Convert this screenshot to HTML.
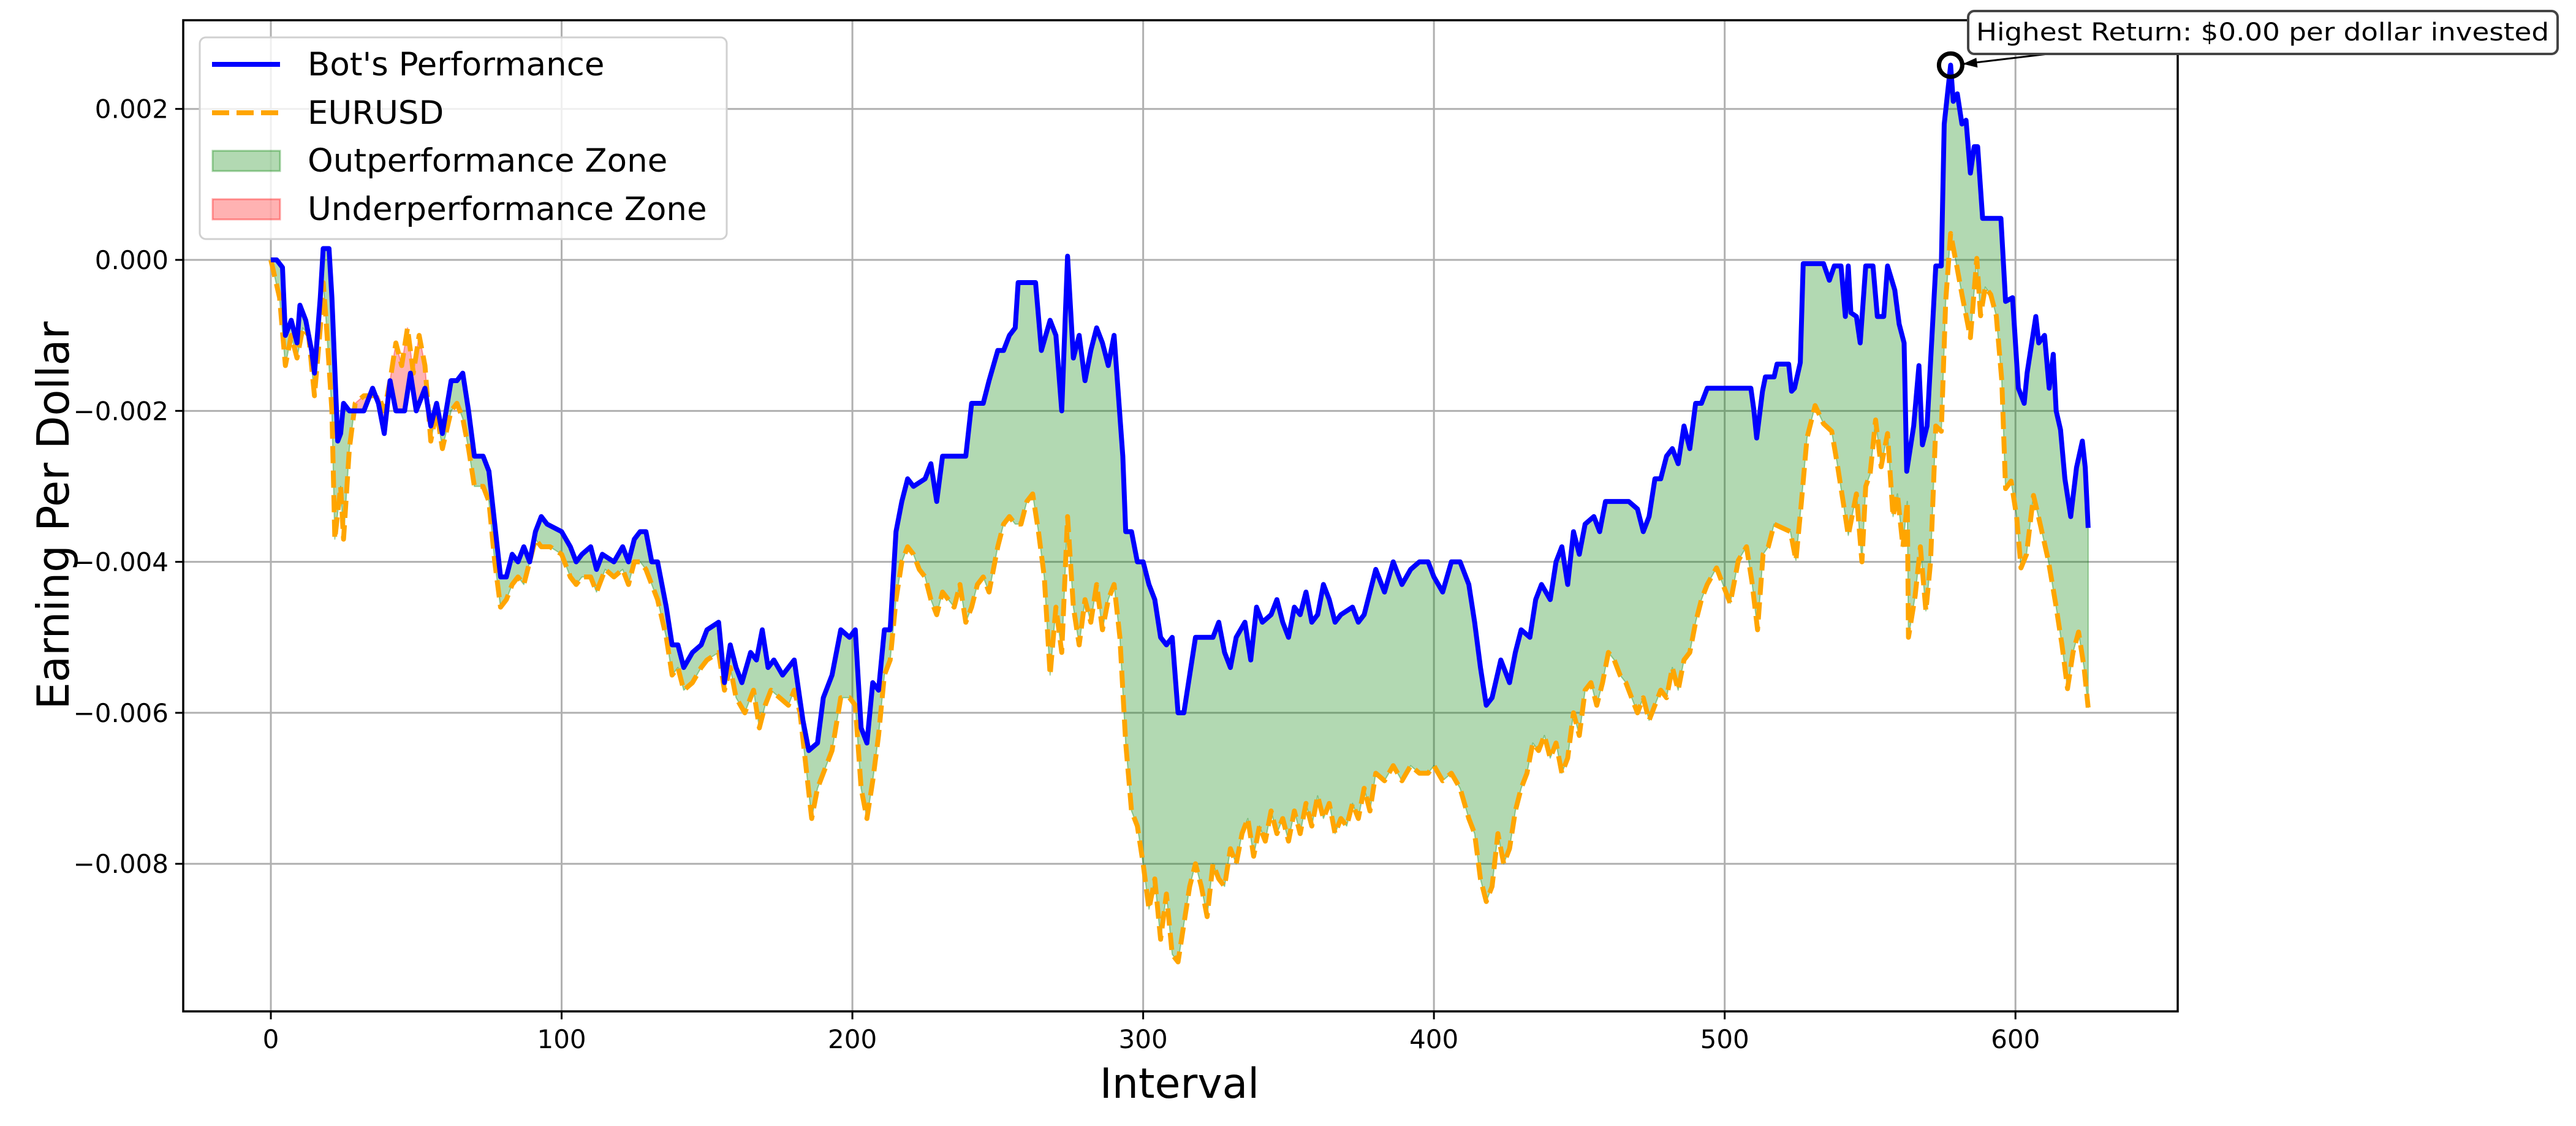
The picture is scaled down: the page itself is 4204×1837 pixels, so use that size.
<!DOCTYPE html>
<html><head><meta charset="utf-8">
<style>
html,body{margin:0;padding:0;background:#fff;}
svg{display:block;font-family:"DejaVu Sans","Liberation Sans",sans-serif;}
</style></head>
<body>
<svg id="chart" width="4204" height="1837" viewBox="0 0 4204 1837" xmlns="http://www.w3.org/2000/svg">
<rect x="0" y="0" width="4204" height="1837" fill="#fff"/>
<g id="grid"></g>
<g id="fills"></g>
<g id="lines"></g>
<g id="axes"></g>
<text x="0" y="0" transform="translate(112,841) rotate(-90)" text-anchor="middle" font-size="72" textLength="633" lengthAdjust="spacingAndGlyphs">Earning Per Dollar</text>
<text x="1925" y="1791" text-anchor="middle" font-size="68">Interval</text>
<g>
<rect x="326" y="61" width="860" height="329" rx="10" fill="#fff" fill-opacity="0.8" stroke="#d0d0d0" stroke-width="3"/>
<line x1="346" y1="105" x2="457" y2="105" stroke="#0000ff" stroke-width="8"/>
<text x="502" y="123" font-size="53">Bot's Performance</text>
<line x1="346" y1="184" x2="457" y2="184" stroke="#ffa500" stroke-width="8" stroke-dasharray="28,12"/>
<text x="502" y="202" font-size="53">EURUSD</text>
<rect x="347" y="246" width="110" height="33" fill="rgba(0,128,0,0.3)" stroke="rgba(0,128,0,0.35)" stroke-width="3"/>
<text x="502" y="280" font-size="53">Outperformance Zone</text>
<rect x="347" y="325" width="110" height="33" fill="rgba(255,0,0,0.3)" stroke="rgba(255,0,0,0.35)" stroke-width="3"/>
<text x="502" y="359" font-size="53">Underperformance Zone</text>
</g>
<g id="annot"></g>
</svg>
<script>
const botX=[0,2,4,5,7,9,10,12,14,15,17,18,20,21,23,24,25,27,32,35,37,39,41,43,46,48,50,53,55,57,59,62,64,66,68,70,73,75,77,79,81,83,85,87,89,91,93,95,100,103,105,107,110,112,114,118,121,123,125,127,129,131,133,136,138,140,142,145,148,150,154,156,158,160,162,165,167,169,171,173,176,180,183,185,188,190,193,196,199,201,203,205,207,209,211,213,215,217,219,221,225,227,229,231,239,241,245,247,250,252,254,256,257,263,265,268,270,272,274,276,278,280,282,284,286,288,290,293,294,296,298,300,302,304,306,308,310,312,314,316,318,324,326,328,330,332,335,337,339,341,344,346,348,350,352,354,356,358,360,362,364,366,368,372,374,376,380,383,386,389,392,395,398,400,403,406,409,412,414,416,418,420,423,426,428,430,433,435,437,440,442,444,446,448,450,452,455,457,459,467,470,472,474,476,478,480,482,484,486,488,490,492,494,497,505,509,510,511,513,514,517,518,522,523,524,526,527,534,536,537.7,540,541.5,542.5,543.4,545.3,546.6,548.5,551,552.5,554.7,556,558.5,560,561.7,562.6,565,566.8,568,569.6,572.6,574.5,575.5,577.7,578.6,580,581.6,583,584.5,585.8,587,588.7,595,596.6,599,601,603,604,607,608,610,611.6,613,614,615.5,617,619,621,623,624,625];
const botY=[0,0,-0.1,-1.0,-0.8,-1.1,-0.6,-0.8,-1.2,-1.5,-0.5,0.15,0.15,-0.5,-2.4,-2.3,-1.9,-2.0,-2.0,-1.7,-1.9,-2.3,-1.6,-2.0,-2.0,-1.5,-2.0,-1.7,-2.2,-1.9,-2.3,-1.6,-1.6,-1.5,-2.0,-2.6,-2.6,-2.8,-3.5,-4.2,-4.2,-3.9,-4.0,-3.8,-4.0,-3.6,-3.4,-3.5,-3.6,-3.8,-4.0,-3.9,-3.8,-4.1,-3.9,-4.0,-3.8,-4.0,-3.7,-3.6,-3.6,-4.0,-4.0,-4.6,-5.1,-5.1,-5.4,-5.2,-5.1,-4.9,-4.8,-5.6,-5.1,-5.4,-5.6,-5.2,-5.3,-4.9,-5.4,-5.3,-5.5,-5.3,-6.1,-6.5,-6.4,-5.8,-5.5,-4.9,-5.0,-4.9,-6.2,-6.4,-5.6,-5.7,-4.9,-4.9,-3.6,-3.2,-2.9,-3.0,-2.9,-2.7,-3.2,-2.6,-2.6,-1.9,-1.9,-1.6,-1.2,-1.2,-1.0,-0.9,-0.3,-0.3,-1.2,-0.8,-1.0,-2.0,0.05,-1.3,-1.0,-1.6,-1.2,-0.9,-1.1,-1.4,-1.0,-2.6,-3.6,-3.6,-4.0,-4.0,-4.3,-4.5,-5.0,-5.1,-5.0,-6.0,-6.0,-5.5,-5.0,-5.0,-4.8,-5.2,-5.4,-5.0,-4.8,-5.3,-4.6,-4.8,-4.7,-4.5,-4.8,-5.0,-4.6,-4.7,-4.4,-4.8,-4.7,-4.3,-4.5,-4.8,-4.7,-4.6,-4.8,-4.7,-4.1,-4.4,-4.0,-4.3,-4.1,-4.0,-4.0,-4.2,-4.4,-4.0,-4.0,-4.3,-4.8,-5.4,-5.9,-5.8,-5.3,-5.6,-5.2,-4.9,-5.0,-4.5,-4.3,-4.5,-4.0,-3.8,-4.3,-3.6,-3.9,-3.5,-3.4,-3.6,-3.2,-3.2,-3.3,-3.6,-3.4,-2.9,-2.9,-2.6,-2.5,-2.7,-2.2,-2.5,-1.9,-1.9,-1.7,-1.7,-1.7,-1.7,-1.98,-2.36,-1.74,-1.55,-1.55,-1.38,-1.38,-1.74,-1.7,-1.36,-0.05,-0.05,-0.27,-0.08,-0.08,-0.75,-0.08,-0.7,-0.75,-1.1,-0.08,-0.08,-0.75,-0.75,-0.08,-0.4,-0.85,-1.1,-2.8,-2.2,-1.4,-2.45,-2.2,-0.08,-0.08,1.8,2.58,2.1,2.2,1.8,1.85,1.15,1.5,1.5,0.55,0.55,-0.55,-0.5,-1.7,-1.9,-1.5,-0.75,-1.1,-1.0,-1.7,-1.25,-2.0,-2.25,-2.9,-3.4,-2.75,-2.4,-2.75,-3.55];
const eurX=[0,3,5,7,9,11,13,15,17,18,19,21,22,24,25,27,29,32,35,37,39,41,43,45,47,49,51,53,55,57,59,62,64,66,68,70,73,75,77,79,81,83,85,87,89,91,93,96,100,103,105,107,110,112,115,118,121,123,125,127,129,131,133,136,138,140,142,145,148,150,154,156,158,160,163,166,168,170,172,175,178,180,182,184,186,188,190,193,196,199,201,203,205,207,209,211,213,215,217,219,221,223,225,227,229,231,233,235,237,239,241,243,245,247,250,252,254,256,258,260,262,264,266,268,270,272,274,276,278,280,282,284,286,288,290,292,294,296,298,300,302,304,306,308,310,312,314,316,318,320,322,324,326,328,330,332,334,336,338,340,342,344,346,348,350,352,354,356,358,360,362,364,366,368,370,372,374,376,378,380,383,386,389,392,395,398,400,403,406,409,412,414,416,418,420,422,424,426,428,430,432,434,436,438,440,442,444,446,448,450,452,454,456,458,460,462,464,466,468,470,472,474,476,478,480,482,484,486,488,490,492,494,497.2,500,501.9,504.7,507.5,509.4,511.3,513.2,515,517,519.8,522.6,524.5,526.4,528.3,531.1,534,536.8,538.7,541,542.5,545.3,547.2,548.5,550,551.9,553.8,556,557.9,559.4,561.3,562.8,563.2,565.5,567.3,569.2,570.8,572.6,574.5,576,577.7,580,581.6,584.5,586.7,588,589.6,591.5,593.4,595.3,596.6,598.5,600.4,601.9,603.8,606.2,608.5,611.3,613.8,616,617.9,619.8,621.7,623.6,625];
const eurY=[0,-0.5,-1.4,-1.0,-1.3,-0.9,-1.0,-1.8,-0.9,-0.3,-0.8,-2.0,-3.7,-3.0,-3.7,-2.5,-1.9,-1.8,-1.8,-1.8,-2.0,-1.6,-1.1,-1.4,-0.9,-1.5,-1.0,-1.4,-2.4,-2.0,-2.5,-2.0,-1.9,-2.1,-2.5,-3.0,-3.0,-3.2,-4.0,-4.6,-4.5,-4.3,-4.2,-4.3,-4.0,-3.7,-3.8,-3.8,-3.9,-4.2,-4.3,-4.2,-4.2,-4.4,-4.1,-4.2,-4.1,-4.3,-4.0,-4.0,-4.1,-4.3,-4.5,-5.0,-5.5,-5.4,-5.7,-5.6,-5.4,-5.3,-5.2,-5.7,-5.4,-5.8,-6.0,-5.7,-6.2,-5.9,-5.7,-5.8,-5.9,-5.7,-6.0,-6.7,-7.4,-7.0,-6.8,-6.5,-5.8,-5.8,-5.9,-7.0,-7.4,-6.9,-6.3,-5.5,-5.3,-4.5,-4.0,-3.8,-3.9,-4.1,-4.2,-4.5,-4.7,-4.4,-4.5,-4.6,-4.3,-4.8,-4.6,-4.3,-4.2,-4.4,-3.8,-3.5,-3.4,-3.5,-3.5,-3.2,-3.1,-3.6,-4.2,-5.5,-4.6,-5.2,-3.4,-4.6,-5.1,-4.5,-4.8,-4.3,-4.9,-4.5,-4.3,-5.0,-6.4,-7.3,-7.5,-8.0,-8.6,-8.2,-9.0,-8.4,-9.2,-9.3,-8.8,-8.3,-8.0,-8.3,-8.7,-8.0,-8.2,-8.3,-7.8,-8.0,-7.6,-7.4,-7.9,-7.5,-7.7,-7.3,-7.6,-7.4,-7.7,-7.3,-7.6,-7.2,-7.5,-7.1,-7.4,-7.2,-7.6,-7.4,-7.5,-7.2,-7.4,-7.0,-7.3,-6.8,-6.9,-6.7,-6.9,-6.7,-6.8,-6.8,-6.7,-6.9,-6.8,-7.0,-7.4,-7.6,-8.2,-8.5,-8.3,-7.6,-8.0,-7.8,-7.3,-7.0,-6.8,-6.4,-6.5,-6.3,-6.6,-6.4,-6.8,-6.6,-6.0,-6.3,-5.7,-5.6,-5.9,-5.6,-5.2,-5.3,-5.5,-5.6,-5.8,-6.0,-5.8,-6.1,-5.9,-5.7,-5.8,-5.4,-5.7,-5.3,-5.2,-4.8,-4.5,-4.3,-4.08,-4.36,-4.55,-3.98,-3.8,-4.27,-4.9,-3.9,-3.8,-3.5,-3.55,-3.6,-3.98,-3.2,-2.36,-1.93,-2.17,-2.27,-2.7,-3.27,-3.65,-3.1,-4.0,-3.0,-2.84,-2.12,-2.74,-2.3,-3.4,-3.1,-3.8,-3.2,-5.0,-4.45,-3.8,-4.65,-4.0,-2.2,-2.27,-0.55,0.35,-0.12,-0.46,-1.03,0.02,-0.74,-0.36,-0.46,-0.74,-1.6,-3.03,-2.93,-3.4,-4.08,-3.9,-3.12,-3.5,-3.98,-4.55,-5.1,-5.68,-5.2,-4.93,-5.4,-5.93];
const xTicks=[0,100,200,300,400,500,600];
const yTicks=[0.002,0,-0.002,-0.004,-0.006,-0.008];
const yTickLabels=["0.002","0.000","\u22120.002","\u22120.004","\u22120.006","\u22120.008"];
const peakX=577.7, peakY=0.00258;
const annotText="Highest Return: $0.00 per dollar invested";

const L=299,R=3554,T=33,B=1650;
const X0=-30.14,X1=655.8,Y0=-0.009955,Y1=0.003175;
const sx=v=>L+(v-X0)/(X1-X0)*(R-L);
const sy=v=>T+(Y1-v)/(Y1-Y0)*(B-T);
const NS="http://www.w3.org/2000/svg";
function mk(tag,attrs,parent){const e=document.createElementNS(NS,tag);for(const k in attrs)e.setAttribute(k,attrs[k]);parent.appendChild(e);return e;}
const grid=document.getElementById('grid'),axes=document.getElementById('axes'),fills=document.getElementById('fills'),lines=document.getElementById('lines'),annot=document.getElementById('annot');
xTicks.forEach(t=>{
  const g=mk('line',{x1:sx(t),x2:sx(t),y1:T,y2:B,stroke:'#b0b0b0','stroke-width':3},grid);
  
  
  const tk=mk('line',{x1:sx(t),x2:sx(t),y1:B,y2:B+13,stroke:'#000','stroke-width':3},axes);
  
  
  const tx=mk('text',{x:sx(t),y:B+60,'text-anchor':'middle','font-size':42},axes);
  tx.textContent=String(t);
  
  
});
yTicks.forEach((t,i)=>{
  const g=mk('line',{x1:L,x2:R,y1:sy(t),y2:sy(t),stroke:'#b0b0b0','stroke-width':3},grid);
  
  
  const tk=mk('line',{x1:L-13,x2:L,y1:sy(t),y2:sy(t),stroke:'#000','stroke-width':3},axes);
  
  
  const tx=mk('text',{x:L-24,y:sy(t)+15,'text-anchor':'end','font-size':42},axes);
  tx.textContent=yTickLabels[i];
  
  
});
const frame=mk('rect',{x:L,y:T,width:R-L,height:B-T,fill:'none',stroke:'#000','stroke-width':3.5},axes);



function interp(xs,ys,x){
  if(x<=xs[0])return ys[0];
  for(let i=1;i<xs.length;i++){if(x<=xs[i]){const f=(x-xs[i-1])/(xs[i]-xs[i-1]);return ys[i-1]+f*(ys[i]-ys[i-1]);}}
  return ys[ys.length-1];
}
// build runs of same sign, one polygon per run
const ux=[...new Set(botX.concat(eurX))].sort((a,b)=>a-b).filter(x=>x<=625);
const pts=[];
for(let i=0;i<ux.length;i++){
  const x=ux[i],b=interp(botX,botY,x)*1e-3,e=interp(eurX,eurY,x)*1e-3;
  if(i>0){
    const p=pts[pts.length-1];const d0=p.b-p.e,d1=b-e;
    if(d0*d1<0){const f=d0/(d0-d1);const xm=p.x+f*(x-p.x),bm=p.b+f*(b-p.b);pts.push({x:xm,b:bm,e:bm});}
  }
  pts.push({x:x,b:b,e:e});
}
let run=[pts[0]],runPos=null;
function flush(){
  if(run.length<2)return;
  const top=run.map(p=>sx(p.x)+','+sy(p.b)),bot=run.slice().reverse().map(p=>sx(p.x)+','+sy(p.e));
  const pos=runPos!==false;
  const col=pos?'rgba(0,128,0,0.3)':'rgba(255,0,0,0.3)';
  const poly=mk('polygon',{points:top.concat(bot).join(' '),fill:col,stroke:pos?'rgba(0,128,0,0.35)':'rgba(255,0,0,0.35)','stroke-width':2,'stroke-linejoin':'round'},fills);
  
  
}
for(let i=1;i<pts.length;i++){
  const a=pts[i-1],c=pts[i];const s=(a.b-a.e)+(c.b-c.e);const pos=s>=0;
  if(runPos===null)runPos=pos;
  if(pos!==runPos){flush();run=[a];runPos=pos;}
  run.push(c);
}
flush();

const eurLine=mk('polyline',{points:eurX.map((x,i)=>sx(x)+','+sy(eurY[i]*1e-3)).join(' '),fill:'none',stroke:'#ffa500','stroke-width':8,'stroke-dasharray':'28,12','stroke-linejoin':'round'},lines);


const botLine=mk('polyline',{points:botX.map((x,i)=>sx(x)+','+sy(botY[i]*1e-3)).join(' '),fill:'none',stroke:'#0000ff','stroke-width':8,'stroke-linejoin':'round'},lines);



const cx=sx(peakX),cy=sy(peakY);
const circ=mk('circle',{cx:cx,cy:cy,r:19,fill:'none',stroke:'#000','stroke-width':7},annot);


const arr=mk('line',{x1:3342,y1:88,x2:cx+22,y2:cy-2,stroke:'#000','stroke-width':3},annot);


const head=mk('polygon',{points:`${cx+20},${cy-2} ${cx+42},${cy-12} ${cx+44},${cy+4}`,fill:'#000'},annot);


const box=mk('rect',{x:3212,y:18,width:962,height:70,rx:10,fill:'#fff',stroke:'#444','stroke-width':4},annot);


const at=mk('text',{x:3225,y:66,'font-size':40,textLength:935,lengthAdjust:'spacingAndGlyphs'},annot);
at.textContent=annotText;


</script>
</body></html>
